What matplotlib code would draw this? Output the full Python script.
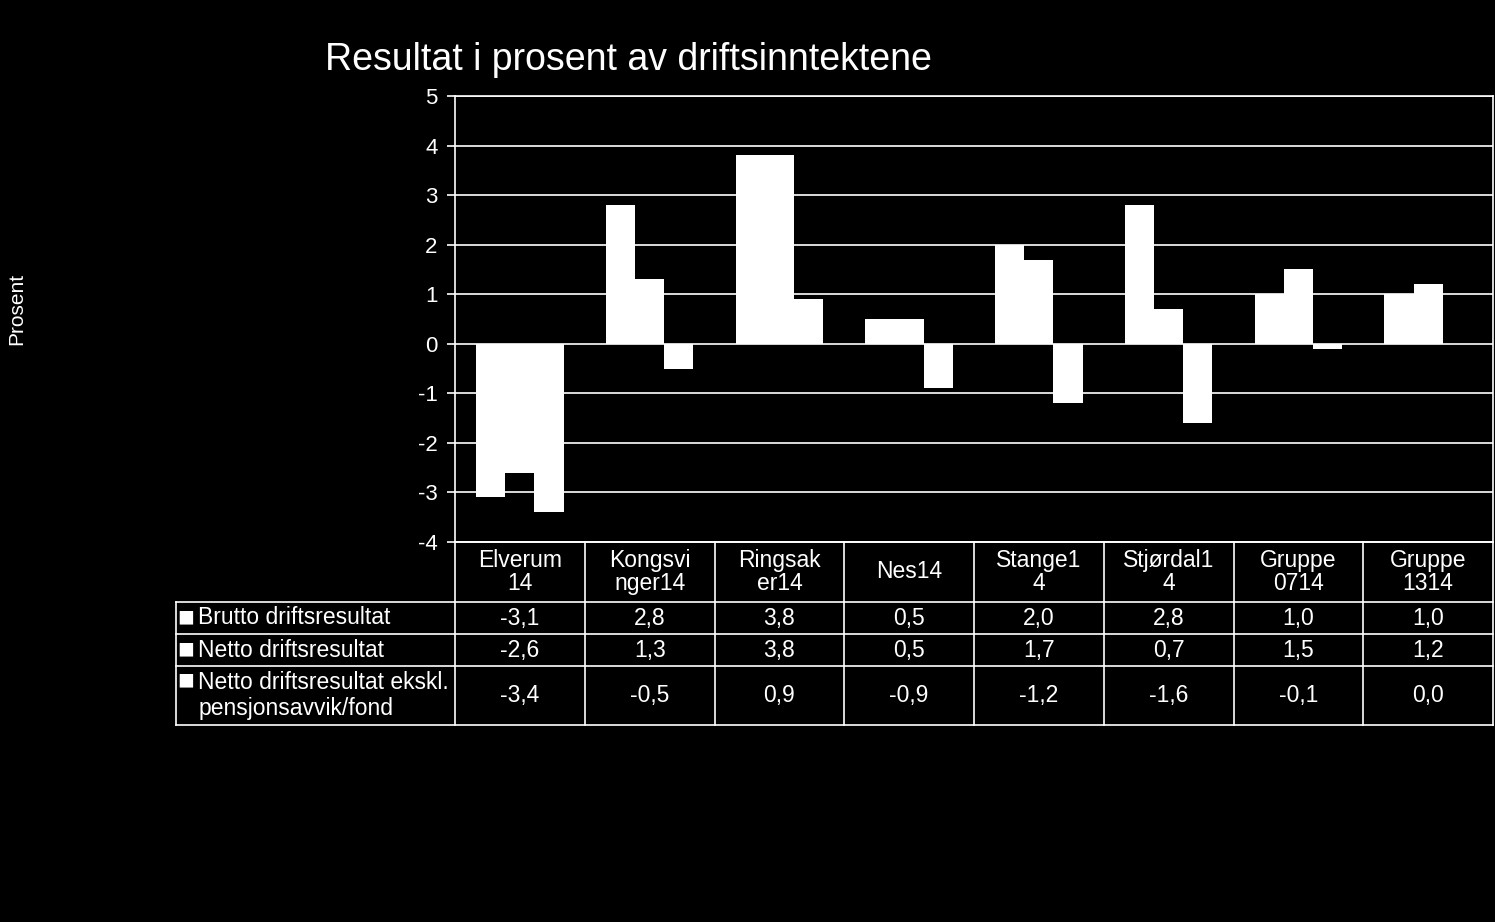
import matplotlib
matplotlib.use("Agg")
import matplotlib.pyplot as plt
import matplotlib.transforms as mtransforms
import numpy as np

plt.rcParams['font.family'] = ['Liberation Sans', 'DejaVu Sans']

categories = ["Elverum\n14", "Kongsvi\nnger14", "Ringsak\ner14", "Nes14",
              "Stange1\n4", "Stjørdal1\n4", "Gruppe\n0714", "Gruppe\n1314"]
series_names = ["Brutto driftsresultat", "Netto driftsresultat",
                "Netto driftsresultat ekskl.\npensjonsavvik/fond"]
brutto = [-3.1, 2.8, 3.8, 0.5, 2.0, 2.8, 1.0, 1.0]
netto = [-2.6, 1.3, 3.8, 0.5, 1.7, 0.7, 1.5, 1.2]
ekskl = [-3.4, -0.5, 0.9, -0.9, -1.2, -1.6, -0.1, 0.0]
yticks = list(range(-4, 6))

W, H = 1495, 922
fs = 16.5
fig = plt.figure(figsize=(W / 100, H / 100), dpi=100, facecolor='black')
ax = fig.add_axes([455 / W, 1 - 542 / H, (1493 - 455) / W, (542 - 96) / H])
ax.set_facecolor('black')

x = np.arange(len(categories))
w = 0.225
for i, vals in enumerate([brutto, netto, ekskl]):
    ax.bar(x + (i - 1) * w, vals, width=w, color='white', zorder=3)

ax.set_xlim(-0.5, len(categories) - 0.5)
ax.set_ylim(-4, 5)
ax.set_yticks(yticks)
ax.set_yticklabels([str(t) for t in yticks])
ax.yaxis.grid(True, color='white', linewidth=1.2, zorder=0)
ax.set_xticks([])
ax.tick_params(axis='y', colors='white', labelsize=16, length=5.5, width=1.2, pad=7)
for s in ax.spines.values():
    s.set_color('white')
    s.set_linewidth(1.2)

fig.text(325 / W, 1 - 60 / H, "Resultat i prosent av driftsinntektene", color='white',
         fontsize=27, ha='left', va='center')
fig.text(17 / W, 1 - 309 / H, "Prosent", color='white', fontsize=15, rotation=90,
         ha='center', va='center')

# data table below the plot
tr = mtransforms.blended_transform_factory(ax.transData, fig.transFigure)
rows_px = [542, 602, 634, 666, 725]
ry = [1 - r / H for r in rows_px]
lk = dict(color='white', linewidth=1.2, clip_on=False, transform=tr)
left_x = -0.5 - (455 - 175) / 130.0
for b in range(len(categories) + 1):
    ax.plot([b - 0.5, b - 0.5], [ry[0], ry[-1]], **lk)
ax.plot([-0.5, len(categories) - 0.5], [ry[0], ry[0]], **lk)
for r in ry[1:]:
    ax.plot([left_x, len(categories) - 0.5], [r, r], **lk)
ax.plot([left_x, left_x], [ry[1], ry[-1]], **lk)

for j, c in enumerate(categories):
    ax.text(j, (ry[0] + ry[1]) / 2, c, transform=tr, color='white', fontsize=fs,
            ha='center', va='center', linespacing=1.05)

for i, (name, vals) in enumerate(zip(series_names, [brutto, netto, ekskl])):
    yc = (ry[i + 1] + ry[i + 2]) / 2
    top_line = yc if '\n' not in name else yc + 14 / H
    ax.text(left_x + 2 / 130.0, top_line, "\u25A0", transform=tr, color='white',
            fontsize=20, ha='left', va='center')
    ax.text(left_x + 23 / 130.0, yc, name, transform=tr, color='white', fontsize=fs,
            ha='left', va='center', linespacing=1.15, multialignment='left')
    for j, v in enumerate(vals):
        ax.text(j, yc, f"{v:.1f}".replace('.', ','), transform=tr, color='white',
                fontsize=fs, ha='center', va='center')

fig.savefig("out.png", dpi=100, facecolor='black')
